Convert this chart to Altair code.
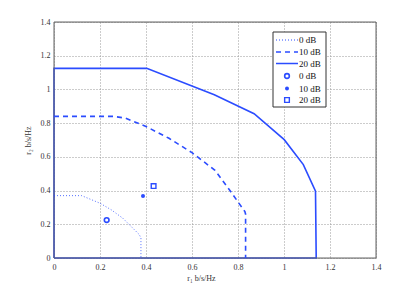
import altair as alt
import pandas as pd

# 20 dB boundary (closed with axes)
x20 = [0.0, 0.0, 0.403, 0.697, 0.870, 1.001, 1.084, 1.137, 1.14, 0.0]
y20 = [0.0, 1.125, 1.125, 0.969, 0.856, 0.702, 0.554, 0.396, 0.0, 0.0]
# 10 dB boundary
x10 = [0.0, 0.26, 0.31, 0.40, 0.50, 0.60, 0.70, 0.765, 0.83, 0.833, 0.833]
y10 = [0.84, 0.84, 0.83, 0.78, 0.71, 0.625, 0.52, 0.40, 0.275, 0.26, 0.0]
# 0 dB boundary
x0 = [0.0, 0.12, 0.20, 0.25, 0.30, 0.37, 0.378, 0.378]
y0 = [0.37, 0.37, 0.325, 0.285, 0.235, 0.14, 0.12, 0.0]

# operating points
px = [0.229, 0.387, 0.433]
py = [0.225, 0.368, 0.427]
pnames = ["0 dB", "10 dB", "20 dB"]

xticks = [0, 0.2, 0.4, 0.6, 0.8, 1.0, 1.2, 1.4]
yticks = [0, 0.2, 0.4, 0.6, 0.8, 1.0, 1.2, 1.4]

BLUE = "#2b4cff"
FONT = "Liberation Serif"

def line_df(xs, ys):
    return pd.DataFrame({"x": xs, "y": ys, "o": list(range(len(xs)))})

xs = alt.Scale(domain=[0, 1.4], nice=False)
ys = alt.Scale(domain=[0, 1.4], nice=False)

xaxis = alt.Axis(
    values=xticks, tickCount=8, format=".1~f", title="r₁ b/s/Hz", grid=True,
    gridDash=[1, 2], gridColor="#999", gridOpacity=1, ticks=False,
    domain=False, labelFont=FONT, labelFontSize=8, labelColor="#333",
    labelOverlap=False, labelBound=False, labelFlush=False,
    labelPadding=5, titleFont=FONT, titleFontSize=8, titleFontWeight="normal",
    titleColor="#333", titlePadding=3, titleX=147)
yaxis = alt.Axis(
    values=yticks, tickCount=8, format=".1~f", title="r₂ b/s/Hz", grid=True,
    gridDash=[1, 2], gridColor="#999", gridOpacity=1, ticks=False,
    domain=False, labelFont=FONT, labelFontSize=8, labelColor="#333",
    labelOverlap=False, labelBound=False, labelFlush=False,
    labelPadding=4, titleFont=FONT, titleFontSize=8, titleFontWeight="normal",
    titleColor="#333", titlePadding=8)

def X():
    return alt.X("x:Q", scale=xs, axis=xaxis)

def Y():
    return alt.Y("y:Q", scale=ys, axis=yaxis)

l20 = alt.Chart(line_df(x20, y20)).mark_line(color=BLUE, strokeWidth=1.6, clip=False).encode(
    x=X(), y=Y(), order="o:Q")
l10 = alt.Chart(line_df(x10, y10)).mark_line(color=BLUE, strokeWidth=1.6, strokeDash=[5, 4]).encode(
    x=X(), y=Y(), order="o:Q")
l0 = alt.Chart(line_df(x0, y0)).mark_line(color=BLUE, strokeWidth=1, strokeDash=[1, 2], opacity=0.8).encode(
    x=X(), y=Y(), order="o:Q")

pts = pd.DataFrame({"x": px, "y": py, "n": pnames})
p0 = alt.Chart(pts.iloc[[0]]).mark_point(shape="circle", filled=False, color=BLUE, size=22, strokeWidth=1.6, opacity=1).encode(x=X(), y=Y())
p1 = alt.Chart(pts.iloc[[1]]).mark_point(shape="circle", filled=True, color=BLUE, size=16, opacity=1).encode(x=X(), y=Y())
p2 = alt.Chart(pts.iloc[[2]]).mark_point(shape="square", filled=False, color=BLUE, size=22, strokeWidth=1.4, opacity=1).encode(x=X(), y=Y())

# frame top/right
frame = alt.Chart(pd.DataFrame({"a": [0]})).mark_rect(fill=None, stroke="#666", strokeWidth=1).encode(
    x=alt.value(0), x2=alt.value(322), y=alt.value(0), y2=alt.value(236))

# legend
leg_labels = ["0 dB", "10 dB", "20 dB", "0 dB", "10 dB", "20 dB"]
leg_y = [18, 30, 41.5, 54, 66.5, 78]
legbox = alt.Chart(pd.DataFrame({"a": [0]})).mark_rect(fill="white", stroke="#333", strokeWidth=1).encode(
    x=alt.value(219), x2=alt.value(272), y=alt.value(10), y2=alt.value(85))
legtext = [alt.Chart(pd.DataFrame({"t": [t]})).mark_text(
    align="left", baseline="middle", font=FONT, fontSize=9, color="#111").encode(
    text="t:N", x=alt.value(245), y=alt.value(yy)) for t, yy in zip(leg_labels, leg_y)]
dashes = [[1, 2], [5, 4], [1, 0]]
widths = [1, 1.6, 1.6]
leglines = [alt.Chart(pd.DataFrame({"a": [0]})).mark_rule(color=BLUE, strokeWidth=w, strokeDash=d).encode(
    x=alt.value(222), x2=alt.value(244), y=alt.value(yy)) for d, w, yy in zip(dashes, widths, leg_y[:3])]
legpts = [
    alt.Chart(pd.DataFrame({"a": [0]})).mark_point(shape="circle", filled=False, color=BLUE, size=22, strokeWidth=1.6, opacity=1).encode(x=alt.value(233), y=alt.value(leg_y[3])),
    alt.Chart(pd.DataFrame({"a": [0]})).mark_point(shape="circle", filled=True, color=BLUE, size=16, opacity=1).encode(x=alt.value(233), y=alt.value(leg_y[4])),
    alt.Chart(pd.DataFrame({"a": [0]})).mark_point(shape="square", filled=False, color=BLUE, size=22, strokeWidth=1.4, opacity=1).encode(x=alt.value(233), y=alt.value(leg_y[5])),
]

chart = alt.layer(l20, frame, l10, l0, p0, p1, p2, legbox, *leglines, *legtext, *legpts).properties(
    width=322, height=236,
    padding={"left": 46, "top": 14, "right": 30, "bottom": 32},
    autosize=alt.AutoSizeParams(type="none"),
).configure_view(stroke=None).configure(background="white")

chart.save("out.html", embed_options={"renderer": "svg", "actions": False})
